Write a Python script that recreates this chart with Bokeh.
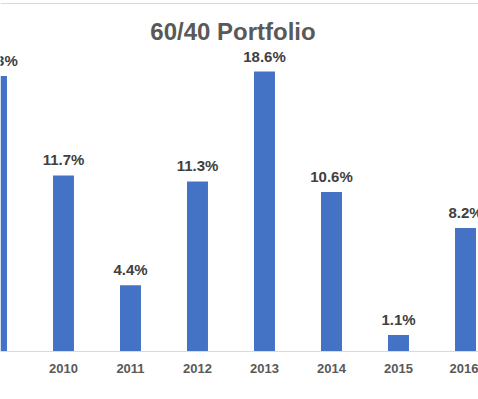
from bokeh.plotting import figure
from bokeh.models import Range1d, FixedTicker, ColumnDataSource, Label, Span
from bokeh.core.properties import value
from bokeh.embed import file_html
from bokeh.resources import INLINE

years = [2009, 2010, 2011, 2012, 2013, 2014, 2015, 2016]
returns = [18.3, 11.7, 4.4, 11.3, 18.6, 10.6, 1.1, 8.2]
labels = [f"{r:.1f}%" for r in returns]
title_text = "60/40 Portfolio"

src = ColumnDataSource(dict(x=years, top=returns, label=labels))

p = figure(width=478, height=399, output_backend="svg", toolbar_location=None,
           x_range=Range1d(2009.060, 2016.194), y_range=Range1d(0, 23.32),
           y_axis_location=None, min_border=0, min_border_bottom=48,
           outline_line_color=None, background_fill_color="white")
p.xgrid.visible = False
p.ygrid.visible = False

p.vbar(x="x", top="top", width=0.313, bottom=0, source=src,
       fill_color="#4472C4", line_color=None)

p.text(x="x", y="top", text="label", source=src, y_offset=-7,
       text_align="center", text_baseline="bottom",
       text_font=value("Liberation Sans"), text_font_style="bold",
       text_font_size="15px", text_color="#404040")

ax = p.xaxis[0]
ax.ticker = FixedTicker(ticks=years)
ax.axis_line_color = "#d9d9d9"
ax.axis_line_width = 1
ax.major_tick_line_color = None
ax.minor_tick_line_color = None
ax.major_tick_out = 0
ax.major_tick_in = 0
ax.major_label_standoff = 12
ax.major_label_text_font = "Liberation Sans"
ax.major_label_text_font_style = "bold"
ax.major_label_text_font_size = "13px"
ax.major_label_text_color = "#595959"

p.add_layout(Span(location=23.12, dimension="width", line_color="#d9d9d9", line_width=1))

p.add_layout(Label(x=2012.53, y=21.26, text=title_text, text_align="center",
                   text_baseline="middle", text_font="Liberation Sans",
                   text_font_style="bold", text_font_size="24px",
                   text_color="#595959"))

open("out.html", "w").write(file_html(p, INLINE))
